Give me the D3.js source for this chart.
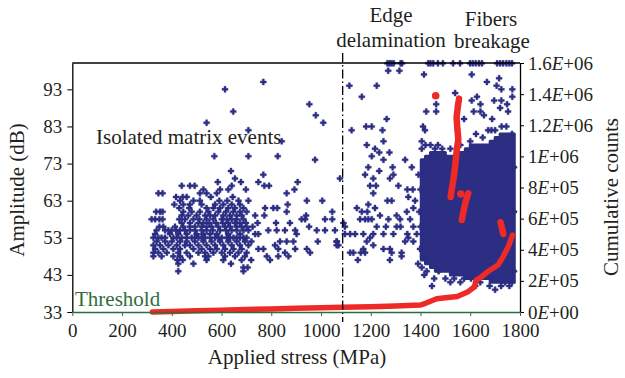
<!DOCTYPE html>
<html><head><meta charset="utf-8">
<script src="https://cdn.jsdelivr.net/npm/d3@7"></script>
<style>
body{margin:0;background:#fff}
svg{display:block}
text{font-family:"Liberation Serif","Times New Roman",serif;fill:#231f20}
</style>
</head><body>
<svg id="chart" width="625" height="378"></svg>
<script>
// ---------- DATA ----------
const stressTicks = [0,200,400,600,800,1000,1200,1400,1600,1800];
const ampTicks = [33,43,53,63,73,83,93];
const countTicks = [0,200000,400000,600000,800000,1000000,1200000,1400000,1600000];
const countTickLabels = ["0E+00","2E+05","4E+05","6E+05","8E+05","1E+06","1.2E+06","1.4E+06","1.6E+06"];

// isolated matrix events: [stress MPa, amplitude dB]
const matrixEvents = [
 [638,71],[654,69],[585,68],[678,68],[440,67],[473,67],[492,67],[641,67],
 [527,66],[594,66],[627,66],[698,66],[346,65],[363,65],[513,65],[540,65],[581,65],
 [417,64],[444,64],[460,64],[557,64],[645,64],
 [433,63],[487,63],[513,63],[591,63],[623,63],[668,63],[708,63],
 [410,62],[446,62],[473,62],[520,62],[574,62],[607,62],[641,62],[674,62],
 [430,61],[470,61],[540,61],[567,61],[594,61],[627,61],[654,61],[688,61],
 [337,60],[353,60],[363,60],[446,60],[480,60],[513,60],[547,60],[587,60],[618,60],[647,60],[674,60],[701,60],
 [440,59],[466,59],[500,59],[534,59],[554,59],[574,59],[607,59],[634,59],[661,59],[681,59],
 [319,58],[333,58],[350,58],[363,58],[430,58],[453,58],[487,58],[511,58],[540,58],[567,58],[601,58],[621,58],[641,58],[661,58],[688,58],
 [440,57],[473,57],[507,57],[527,57],[551,57],[578,57],[605,57],[627,57],[654,57],[674,57],[698,57],
 [350,56],[366,56],[413,56],[446,56],[473,56],[493,56],[520,56],[540,56],[560,56],[587,56],[614,56],[634,56],[661,56],[681,56],[701,56],
 [339,55],[373,55],[386,55],[400,55],[417,55],[433,55],[453,55],[473,55],[493,55],[520,55],[540,55],[565,55],[594,55],[618,55],[641,55],[661,55],[688,55],[708,55],
 [333,54],[393,54],[426,54],[460,54],[500,54],[527,54],[554,54],[581,54],[627,54],[674,54],
 [326,53],[346,53],[359,53],[373,53],[406,53],[420,53],[440,53],[460,53],[480,53],[493,53],[507,53],[520,53],[534,53],[554,53],[574,53],[587,53],[601,53],[621,53],[634,53],[648,53],[661,53],[674,53],[688,53],[701,53],
 [339,52],[373,52],[400,52],[433,52],[460,52],[493,52],[527,52],[560,52],[594,52],[627,52],[661,52],[694,52],
 [326,51],[353,51],[386,51],[420,51],[453,51],[473,51],[507,51],[540,51],[574,51],[607,51],[641,51],[674,51],[708,51],
 [333,50],[366,50],[406,50],[433,50],[487,50],[520,50],[554,50],[581,50],[614,50],[648,50],[681,50],
 [326,49],[346,49],[380,49],[426,49],[460,49],[507,49],[534,49],[567,49],[601,49],[634,49],[668,49],[701,49],
 [326,48],[359,48],[406,48],[433,48],[473,48],[534,48],[547,48],[614,48],[654,48],[694,48],
 [422,47],[444,47],[540,47],[607,47],[681,47],[426,46],[487,46],[638,46],[688,45],[426,44],[688,44],
 // 700 - 1100 MPa
 [768,95],[614,93],[953,89],[647,87],[979,86],[540,84],[1009,84],[708,82],[842,79],
 [571,75],[708,75],[826,75],[976,74],[768,70],[1076,69],[748,68],[906,68],[772,67],[791,67],
 [893,66],[862,65],[943,63],[1005,63],[866,62],[775,61],[808,61],[824,61],[862,60],[1045,60],
 [772,59],[940,59],[922,58],[936,58],[1016,58],[1045,58],[819,57],[875,57],[1090,57],[952,56],
 [788,55],[822,55],[855,55],[896,55],[983,55],[1016,55],[735,54],[748,54],[902,54],
 [835,52],[862,52],[889,52],[987,52],[1063,52],[815,51],[1070,51],[748,50],[768,50],[828,50],[896,50],[943,50],
 [855,49],[956,49],[782,48],[828,48],[869,48],[719,47],[795,47],[705,45],[725,56],[735,59],[720,52],[745,57],
 // 1100 - 1400 MPa
 [1114,94],[1224,94],[1164,91],[1264,85],[1123,82],[1181,83],[1204,83],[1247,82],[1184,78],[1251,79],
 [1217,77],[1234,76],[1204,75],[1275,76],[1251,74],[1338,74],[1190,72],[1288,72],[1365,72],[1234,71],
 [1177,70],[1291,70],[1210,69],[1277,69],[1197,67],[1221,67],[1311,67],[1347,66],[1210,65],[1369,66],
 [1267,63],[1284,63],[1351,64],[1378,63],[1144,61],[1190,62],[1217,61],[1164,60],[1186,60],[1237,59],
 [1304,59],[1345,60],[1371,61],[1157,58],[1177,58],[1190,58],[1204,58],[1271,58],[1318,58],[1358,58],
 [1096,56],[1224,56],[1261,56],[1304,56],[1320,56],[1371,56],[1056,55],[1137,54],[1117,54],[1170,54],
 [1210,54],[1251,54],[1291,54],[1347,54],[1385,54],[1063,52],[1096,54],[1197,53],[1351,53],[1184,52],
 [1338,52],[1063,51],[1210,51],[1371,52],[1170,50],[1251,50],[1277,50],[1284,49],[1324,49],[1130,49],
 [1117,49],[1160,49],[1177,49],[1277,47],[1148,47],[1324,48],[1392,70],[1395,60],[1398,50],[1390,46]
];

// fibre breakage / delamination region outliers: [stress, amplitude]
const fiberEvents = [
 [1267,100],[1275,100],[1283,100],[1292,100],[1320,100],[1326,100],[1270,98],[1315,98],
 [1431,100],[1440,100],[1451,100],[1470,100],[1490,100],[1531,100],[1559,100],
 [1599,100],[1610,100],[1622,100],[1635,100],[1647,100],[1708,100],[1720,100],[1732,100],[1745,100],[1757,100],[1768,100],
 [1414,97],[1606,97],[1716,96],[1667,95],[1706,94],
 [1539,92],[1725,93],[1769,93],[1606,90],[1627,91],[1696,90],[1725,90],[1769,91],[1641,89],[1720,88],
 [1748,89],[1463,89],[1463,87],[1423,87],[1614,87],[1641,87],[1655,86],[1575,85],[1688,85],[1752,87],
 [1726,83],[1672,82],[1685,82],[1623,81],[1410,83],[1418,82],[1768,81],[1405,79],[1458,77],[1487,77],
 [1405,77],[1440,78],[1600,79],[1650,80],[1700,82],[1745,83],[1420,78],[1470,78],[1520,77],[1560,78],
 [1425,47],[1425,44],[1473,44],[1446,40],[1535,42],[1575,42],[1678,40],[1724,40],[1757,40],[1768,41],
 [1685,42],[1603,42],[1500,42],[1405,45],[1410,48],[1560,41],[1640,41],[1740,41],[1415,43],[1455,42],
 [1520,41],[1620,40],[1700,39],[1776,44],[1776,60],[1776,72],[1400,56],[1400,66]
];

// dense cluster envelope: column edges (MPa) and amplitude range of each column
const denseEdges = [1403,1420,1440,1460,1480,1500,1520,1540,1560,1580,1600,1620,1640,1660,1680,1700,1720,1740,1760,1777];
const denseLow  = [47,46,45,44,44,44,43,43,43,42,42,42,42,42,41,41,41,41,41];
const denseHigh = [74,75,76,76,76,75,75,76,76,77,78,78,78,78,79,80,81,81,81];

// cumulative counts (red)
const cumStress = [322,400,500,600,700,800,900,1000,1087,1200,1300,1400,1420,1465,1500,1548,1589,1617,1623,1637,1671,1713,1733,1754,1770];
const cumCounts = [0,3000,8000,12000,16000,20000,24000,27000,30000,34000,38000,45000,56000,85000,92000,100000,128000,162000,205000,217000,260000,304000,358000,424000,495000];
const cumStress2 = [1521,1527,1535,1540,1545,1552,1548,1545,1550,1555];
const cumCounts2 = [739000,800000,880000,950000,1030000,1110000,1180000,1250000,1320000,1371000];
const cumStress3 = [1566,1572,1580,1592];
const cumCounts3 = [591000,640000,700000,763000];
const cumStress4 = [1722,1733];
const cumCounts4 = [577000,501000];
const cumDotStress = [1461,1562];
const cumDotCounts = [1390000,758000];

const delaminationStress = 1087;

// ---------- DRAW ----------
const svg = d3.select("#chart");
const L = 72.3, R = 520, T = 63, B = 312;
const x = d3.scaleLinear().domain([0,1800]).range([L,R]);
const yA = d3.scaleLinear().domain([33,100.1]).range([B,T]);
const yC = d3.scaleLinear().domain([0,1600000]).range([B,T]);

const navy = "#2b2e83", red = "#ee2a26", green = "#2f6e3c";

// dense cluster as one stepped area
const denseData = denseEdges.map((s,i)=>({s, lo: denseLow[Math.min(i,denseLow.length-1)], hi: denseHigh[Math.min(i,denseHigh.length-1)]}));
svg.append("path").datum(denseData)
  .attr("d", d3.area().x(d=>x(d.s)).y0(d=>yA(d.lo)).y1(d=>yA(d.hi)).curve(d3.curveStepAfter))
  .attr("fill", navy).attr("stroke", navy).attr("stroke-width", 3).attr("stroke-linejoin","round");

const sym = d3.symbol().type(d3.symbolCross).size(20);
svg.append("g").selectAll("path").data(matrixEvents.concat(fiberEvents)).join("path")
  .attr("d", sym)
  .attr("transform", d=>`translate(${x(d[0])},${yA(d[1])})`)
  .attr("fill", navy).attr("stroke", navy).attr("stroke-width", 0.4);

// red cumulative counts
const line = d3.line().x(d=>x(d[0])).y(d=>yC(d[1]));
[[cumStress,cumCounts,5.5],[cumStress2,cumCounts2,6.5],[cumStress3,cumCounts3,6.5],[cumStress4,cumCounts4,6.5]].forEach(([s,c,w])=>{
  svg.append("path").datum(s.map((v,i)=>[v,c[i]]))
    .attr("d", line).attr("fill","none").attr("stroke",red)
    .attr("stroke-width",w).attr("stroke-linecap","round").attr("stroke-linejoin","round");
});
svg.append("g").selectAll("circle").data(cumDotStress.map((v,i)=>[v,cumDotCounts[i]])).join("circle")
  .attr("cx",d=>x(d[0])).attr("cy",d=>yC(d[1])).attr("r",3.8).attr("fill",red);

// frame top
svg.append("line").attr("x1",L).attr("x2",R).attr("y1",T).attr("y2",T).attr("stroke","#000").attr("stroke-width",1.3);

// dash-dot line
svg.append("line").attr("x1",x(delaminationStress)).attr("x2",x(delaminationStress))
  .attr("y1",53).attr("y2",322).attr("stroke","#000").attr("stroke-width",1.3)
  .attr("stroke-dasharray","9,3,1.5,3");

// axes
const fs = "19px";
const gL = svg.append("g").attr("transform",`translate(${L},0)`)
  .call(d3.axisLeft(yA).tickValues(ampTicks).tickSize(5).tickPadding(5).tickSizeOuter(0));
gL.select(".domain").attr("stroke","#000").attr("stroke-width",1.3);
gL.selectAll("text").style("font-size",fs).attr("fill","#231f20");

const gR = svg.append("g").attr("transform",`translate(${R},0)`)
  .call(d3.axisRight(yC).tickValues(countTicks).tickSize(4).tickPadding(4).tickSizeOuter(0).tickFormat(()=>""));
gR.select(".domain").attr("stroke","#000").attr("stroke-width",1.3);
gR.selectAll(".tick text").each(function(d,i){
  const parts = countTickLabels[i].split("E");
  const t = d3.select(this).style("font-size",fs).attr("fill","#231f20");
  t.append("tspan").text(parts[0]);
  t.append("tspan").attr("font-style","italic").text("E");
  t.append("tspan").text(parts[1]);
});

const gB = svg.append("g").attr("transform",`translate(0,${B})`)
  .call(d3.axisBottom(x).tickValues(stressTicks).tickSize(4).tickPadding(8).tickSizeOuter(0).tickFormat(d3.format("d")));
gB.select(".domain").attr("stroke",green).attr("stroke-width",1.5);
gB.selectAll("line").attr("stroke",green);
gB.selectAll("text").style("font-size",fs).attr("fill","#231f20");

// texts
const t = (s,xx,yy,opt={})=>svg.append("text").attr("x",xx).attr("y",yy)
  .attr("text-anchor",opt.anchor||"start").style("font-size",opt.size||"21px")
  .style("fill",opt.fill||"#231f20").text(s);
t("Edge",391,22,{anchor:"middle"});
t("delamination",391,47,{anchor:"middle"});
t("Fibers",491,26,{anchor:"middle"});
t("breakage",492,48,{anchor:"middle"});
t("Isolated matrix events",96,144);
t("Threshold",75,306,{fill:green});
t("Applied stress (MPa)",297,364,{anchor:"middle"});
svg.append("text").attr("transform","translate(24,190) rotate(-90)").attr("text-anchor","middle")
  .style("font-size","21px").text("Amplitude (dB)");
svg.append("text").attr("transform","translate(618,197) rotate(-90)").attr("text-anchor","middle")
  .style("font-size","21px").text("Cumulative counts");
</script>
</body></html>
